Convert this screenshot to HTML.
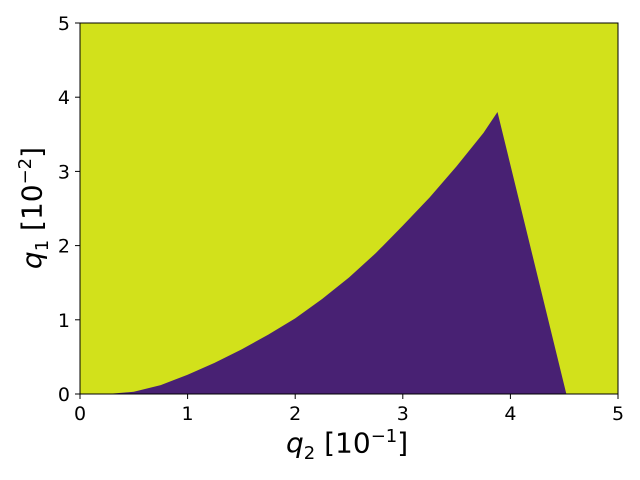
<!DOCTYPE html>
<html><head><meta charset="utf-8"><style>body{margin:0;background:#fff}svg{display:block}</style></head>
<body>
<svg id="chart" width="640" height="480" xmlns="http://www.w3.org/2000/svg"></svg>
<script>
const xTicks=[0,1,2,3,4,5];
const yTicks=[0,1,2,3,4,5];
// boundary of purple region: curve q1 vs q2
const curveQ2=[0.25,0.5,0.75,1,1.25,1.5,1.75,2,2.25,2.5,2.75,3,3.25,3.5,3.75,3.88];
const curveQ1=[0,0.03,0.12,0.26,0.42,0.6,0.8,1.02,1.28,1.57,1.9,2.27,2.65,3.07,3.52,3.8];
const lineEndQ2=4.52;
const bgColor="#d2e11b", regionColor="#482173";
const X0=80,X1=618,Y0=394,Y1=23;
const sx=v=>X0+(v-0)/5*(X1-X0);
const sy=v=>Y0-(v-0)/5*(Y0-Y1);
const svg=document.getElementById('chart');
const NS="http://www.w3.org/2000/svg";
function mk(t,a){const e=document.createElementNS(NS,t);for(const k in a)e.setAttribute(k,a[k]);svg.appendChild(e);return e;}
let bg=mk('rect',{x:X0,y:Y1,width:X1-X0,height:Y0-Y1,fill:bgColor});


let d=`M${sx(curveQ2[0])},${sy(0)}`;
for(let i=0;i<curveQ2.length;i++)d+=` L${sx(curveQ2[i])},${sy(curveQ1[i])}`;
d+=` L${sx(lineEndQ2)},${sy(0)} Z`;
let reg=mk('path',{d:d,fill:regionColor});


let fr=mk('rect',{x:X0,y:Y1,width:X1-X0,height:Y0-Y1,fill:'none',stroke:'#000','stroke-width':1});


xTicks.forEach(v=>{
  mk('line',{x1:sx(v),x2:sx(v),y1:Y0,y2:Y0+5,stroke:'#000'});
  let t=mk('text',{x:sx(v),y:Y0+26,'text-anchor':'middle','font-size':19,'font-family':'DejaVu Sans, Liberation Sans, sans-serif'});
  t.textContent=v;
  
  
});
yTicks.forEach(v=>{
  mk('line',{x1:X0,x2:X0-5,y1:sy(v),y2:sy(v),stroke:'#000'});
  let t=mk('text',{x:X0-10,y:sy(v)+7,'text-anchor':'end','font-size':19,'font-family':'DejaVu Sans, Liberation Sans, sans-serif'});
  t.textContent=v;
  
  
});
</script>
<div style="position:absolute;left:286px;top:426px;font:28px 'DejaVu Sans','Liberation Sans',sans-serif;white-space:nowrap"><i>q</i><sub style="font-size:18px">2</sub> [10<sup style="font-size:18px">−1</sup>]</div>
<div style="position:absolute;left:34px;top:208px;transform:translate(-50%,-50%) rotate(-90deg);font:28px 'DejaVu Sans','Liberation Sans',sans-serif;white-space:nowrap"><i>q</i><sub style="font-size:18px">1</sub> [10<sup style="font-size:18px">−2</sup>]</div>
</body></html>
